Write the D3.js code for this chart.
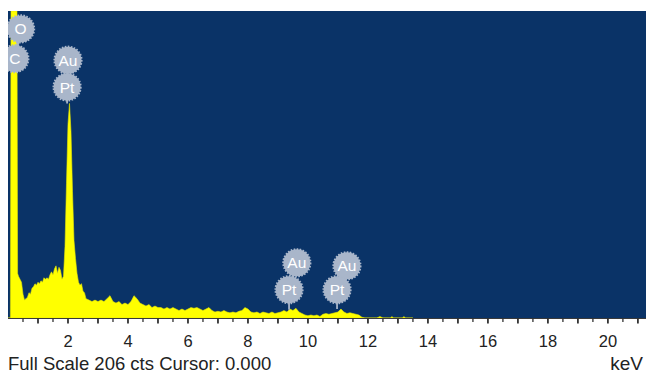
<!DOCTYPE html>
<html>
<head>
<meta charset="utf-8">
<script src="https://cdn.jsdelivr.net/npm/d3@7"></script>
<style>
  html, body { margin: 0; padding: 0; background: #fff; }
  svg { display: block; font-family: "Liberation Sans", Arial, sans-serif; }
</style>
</head>
<body>
<script>
// spectrum: energy (keV) and counts
const energy = [
  0.00, 0.08, 0.10, 0.30, 0.32, 0.35, 0.40, 0.45, 0.50, 0.55, 0.60, 0.65, 0.70, 0.75,
  0.80, 0.85, 0.90, 0.95, 1.00, 1.05, 1.10, 1.15, 1.20, 1.25, 1.30, 1.35, 1.40, 1.45,
  1.50, 1.55, 1.60, 1.65, 1.70, 1.75, 1.80, 1.85, 1.90, 1.95, 2.00, 2.05, 2.10, 2.15,
  2.20, 2.25, 2.30, 2.35, 2.40, 2.45, 2.50, 2.55, 2.60, 2.70, 2.80, 2.90, 3.00, 3.10,
  3.20, 3.30, 3.40, 3.50, 3.60, 3.70, 3.80, 3.90, 4.00, 4.10, 4.20, 4.30, 4.40, 4.50,
  4.60, 4.70, 4.80, 4.90, 5.00, 5.10, 5.20, 5.30, 5.40, 5.50, 5.60, 5.70, 5.80, 5.90,
  6.00, 6.10, 6.20, 6.30, 6.40, 6.50, 6.60, 6.70, 6.80, 6.90, 7.00, 7.10, 7.20, 7.30,
  7.40, 7.50, 7.60, 7.70, 7.80, 7.90, 8.00, 8.10, 8.20, 8.30, 8.40, 8.50, 8.60, 8.70,
  8.80, 8.90, 9.00, 9.10, 9.20, 9.30, 9.40, 9.50, 9.60, 9.70, 9.80, 9.90, 10.00, 10.10,
  10.20, 10.30, 10.40, 10.50, 10.60, 10.70, 10.80, 10.90, 11.00, 11.10, 11.20, 11.30,
  11.40, 11.50, 11.60, 11.70, 11.80, 11.90, 12.30, 12.40, 12.50, 12.75, 12.80, 12.85,
  13.15, 13.20, 13.25, 13.50
];
const counts = [
  0, 0, 230, 230, 30, 28, 26, 24, 16, 12, 13, 14, 17, 16,
  20, 21, 23, 22, 24, 23, 25, 24, 27, 26, 27, 26, 29, 31,
  29, 33, 35, 30, 34, 32, 26, 28, 48, 90, 130, 144, 125, 85,
  52, 40, 30, 24, 22, 23, 18, 17, 13, 12, 11, 12, 11, 12,
  11, 13, 15, 11, 10, 11, 9, 10, 9, 11, 15, 13, 10, 9,
  8, 9, 7, 8, 7, 7, 6, 7, 6, 7, 6, 5, 6, 5,
  6, 7, 6.5, 7, 6, 5, 6, 7, 5, 4, 4.5, 4, 5, 4,
  3.5, 4, 3.5, 4.5, 5, 7, 6, 4, 3.5, 4, 3, 4, 3.5, 3,
  4, 3, 3.5, 4, 5, 4, 6, 5, 6.5, 4, 3, 2, 1.5, 2,
  1.5, 2, 1, 2.5, 3, 2.5, 3, 3.5, 4, 6, 4, 3,
  3.5, 3, 2.5, 2, 0.5, 0, 0, 1, 0, 0, 1, 0,
  0, 1, 0, 0
];

// element markers: element, keV and height (cts) of bubble centre
const markerEl = ["O", "C", "Au", "Pt", "Au", "Pt", "Au", "Pt"];
const markerKeV = [0.42, 0.23, 2.00, 1.97, 9.63, 9.37, 11.30, 10.97];
const markerCts = [194, 174, 173, 155, 37, 19, 35, 19];
// pairs joined by a connector (upper index, lower index)
const markerLinks = [[0, 1], [2, 3], [4, 5], [6, 7]];
// stems from a bubble down to the peak: bubble index, cts of stem end
const stemFrom = [3, 5, 7];
const stemTo = [144, 5.5, 6];

const xTicks = [2, 4, 6, 8, 10, 12, 14, 16, 18, 20];
const fullScale = 206;
const footer = "Full Scale 206 cts Cursor: 0.000";

const W = 647, H = 373;
const plot = { left: 8, right: 646, top: 11, bottom: 318 };

const svg = d3.select("body").append("svg")
  .attr("width", W)
  .attr("height", H);

const x = d3.scaleLinear().domain([0, 21.27]).range([plot.left, plot.right]);
const y = d3.scaleLinear().domain([0, fullScale]).range([plot.bottom, plot.top]).clamp(true);

svg.append("clipPath").attr("id", "clip")
  .append("rect")
  .attr("x", plot.left).attr("y", plot.top)
  .attr("width", plot.right - plot.left).attr("height", plot.bottom - plot.top);

// background
svg.append("rect")
  .attr("x", plot.left).attr("y", plot.top)
  .attr("width", plot.right - plot.left).attr("height", plot.bottom - plot.top)
  .attr("fill", "#0a3367");

const data = energy.map((e, i) => ({ e: e, c: counts[i] }));

const area = d3.area()
  .x(d => x(d.e))
  .y0(plot.bottom)
  .y1(d => y(d.c));

const g = svg.append("g").attr("clip-path", "url(#clip)");

g.append("path")
  .datum(data)
  .attr("fill", "#ffff00")
  .attr("stroke", "#e8e800")
  .attr("stroke-width", 0.6)
  .attr("d", area);

// markers
const bubbleR = 13.5;
const bubbleFill = "#a9b6ca";

markerLinks.forEach(([a, b]) => {
  g.append("line")
    .attr("x1", x(markerKeV[a])).attr("y1", y(markerCts[a]))
    .attr("x2", x(markerKeV[b])).attr("y2", y(markerCts[b]))
    .attr("stroke", bubbleFill).attr("stroke-width", 2.5);
});

stemFrom.forEach((idx, i) => {
  g.append("line")
    .attr("x1", x(markerKeV[idx])).attr("y1", y(markerCts[idx]))
    .attr("x2", x(markerKeV[idx])).attr("y2", y(stemTo[i]))
    .attr("stroke", bubbleFill).attr("stroke-width", 1.8);
});

const bubble = g.selectAll(".bubble")
  .data(markerEl)
  .enter().append("g")
  .attr("class", "bubble")
  .attr("transform", (d, i) => `translate(${x(markerKeV[i])},${y(markerCts[i])})`);

bubble.append("circle")
  .attr("r", bubbleR)
  .attr("fill", bubbleFill)
  .attr("stroke", bubbleFill)
  .attr("stroke-width", 2.2)
  .attr("stroke-dasharray", "1.6 1.4");

bubble.append("text")
  .attr("text-anchor", "middle")
  .attr("dy", "0.36em")
  .attr("fill", "#ffffff")
  .attr("font-size", 15.5)
  .text(d => d);

// x axis
const ax = svg.append("g");
ax.append("line")
  .attr("x1", plot.left).attr("x2", plot.right)
  .attr("y1", plot.bottom + 0.5).attr("y2", plot.bottom + 0.5)
  .attr("stroke", "#3a3a3a").attr("stroke-width", 1);

const minor = d3.range(0.5, 21.01, 0.5);
ax.selectAll(".tick")
  .data(minor)
  .enter().append("line")
  .attr("x1", d => x(d)).attr("x2", d => x(d))
  .attr("y1", plot.bottom)
  .attr("y2", d => plot.bottom + (d % 1 === 0 ? 5.5 : 4))
  .attr("stroke", "#333")
  .attr("stroke-width", d => d % 1 === 0 ? 1.8 : 1.3);

ax.selectAll(".lbl")
  .data(xTicks)
  .enter().append("text")
  .attr("x", d => x(d))
  .attr("y", 347)
  .attr("text-anchor", "middle")
  .attr("font-size", 16.5)
  .attr("fill", "#222")
  .text(d => d);

svg.append("text")
  .attr("x", 8).attr("y", 370)
  .attr("font-size", 18.5)
  .attr("fill", "#222")
  .text(footer);

svg.append("text")
  .attr("x", 643).attr("y", 370)
  .attr("text-anchor", "end")
  .attr("font-size", 19)
  .attr("fill", "#222")
  .text("keV");
</script>
</body>
</html>
